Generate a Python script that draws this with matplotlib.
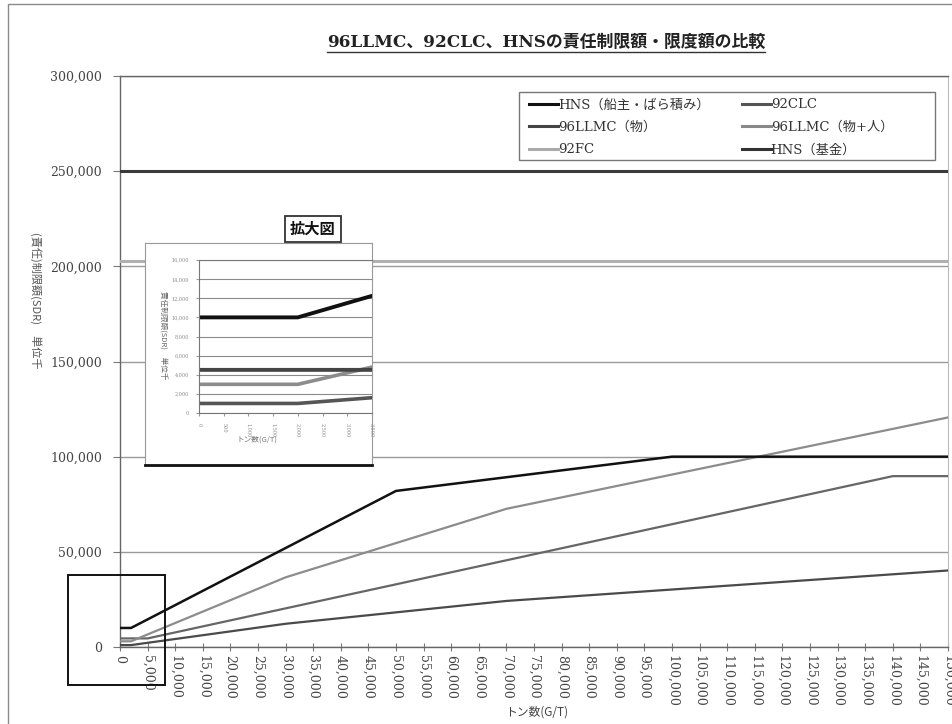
import matplotlib
matplotlib.use('Agg')
import matplotlib.pyplot as plt
from matplotlib.lines import Line2D
from matplotlib.patches import Rectangle


# data (tonnage in G/T, limits in thousand SDR) ...............................
hns_owner_x = [0, 2000, 50000, 100000, 150000]
hns_owner_y = [10000, 10000, 82000, 100000, 100000]

clc92_x = [0, 5000, 140000, 150000]
clc92_y = [4510, 4510, 89770, 89770]

llmc_prop_x = [0, 2000, 30000, 70000, 150000]
llmc_prop_y = [1000, 1000, 12200, 24200, 40200]

llmc_all_x = [0, 2000, 30000, 70000, 150000]
llmc_all_y = [3000, 3000, 36600, 72600, 120600]

fc92_x = [0, 150000]
fc92_y = [203040, 203040]

hns_fund_x = [0, 150000]
hns_fund_y = [250000, 250000]

labels = ['HNS（船主・ばら積み）', '92CLC', '96LLMC（物）',
          '96LLMC（物+人）', '92FC', 'HNS（基金）']

x_ticks = list(range(0, 150001, 5000))
y_ticks = list(range(0, 300001, 50000))
inset_x_ticks = list(range(0, 3501, 500))
inset_y_ticks = list(range(0, 16001, 2000))

W, H = 952, 724
SERIF = ['DejaVu Serif', 'Noto Sans CJK JP']
JP = ['Noto Sans CJK JP', 'DejaVu Sans']


def fx(px):
    return px / W


def fy(py):
    return 1 - py / H


def fmt(v):
    return f'{v:,}'


def main():
    fig = plt.figure(figsize=(W / 100, H / 100), dpi=100)
    fig.patch.set_facecolor('white')

    # outer chart frame ........................................................
    fig.add_artist(Rectangle((fx(8), fy(730)), 1.0, fy(4) - fy(730),
                             transform=fig.transFigure, fill=False,
                             edgecolor='#8a8a8a', lw=1.0))

    # main axes ................................................................
    ax = fig.add_axes([fx(120), fy(647), fx(948) - fx(120), fy(76) - fy(647)])
    ax.set_xlim(0, 150000)
    ax.set_ylim(0, 300000)

    ax.plot(hns_fund_x, hns_fund_y, color='#3a3a3a', lw=2.2, zorder=3)
    ax.plot(fc92_x, fc92_y, color='#b0b0b0', lw=2.2, zorder=3)
    ax.plot(llmc_prop_x, llmc_prop_y, color='#4a4a4a', lw=1.6, zorder=3)
    ax.plot(clc92_x, clc92_y, color='#666666', lw=1.6, zorder=3)
    ax.plot(llmc_all_x, llmc_all_y, color='#8c8c8c', lw=1.6, zorder=3)
    ax.plot(hns_owner_x, hns_owner_y, color='#111111', lw=1.8, zorder=4)

    ax.set_xticks(x_ticks)
    ax.set_xticklabels([fmt(v) for v in x_ticks], rotation=270,
                       family=SERIF, fontsize=9, color='#444444')
    ax.set_yticks(y_ticks)
    ax.set_yticklabels([fmt(v) for v in y_ticks], family=SERIF,
                       fontsize=9, color='#444444')
    ax.tick_params(axis='x', direction='inout', length=6, color='#777777',
                   pad=3)
    ax.tick_params(axis='y', direction='out', length=5, color='#777777',
                   pad=8)
    ax.yaxis.grid(True, color='#9a9a9a', lw=1.0)
    ax.set_axisbelow(True)
    for side in ['left', 'bottom', 'top']:
        ax.spines[side].set_color('#666666')
        ax.spines[side].set_linewidth(1.0)
    ax.spines['right'].set_color('#bbbbbb')

    fig.text(fx(36), fy(300), '(責任)制限額(SDR)　単位千', rotation=270,
             ha='center', va='center', family=JP, fontsize=8,
             color='#555555')
    fig.text(fx(537), fy(712), 'トン数(G/T)', ha='center', va='center',
             family=JP, fontsize=8.5, color='#444444')

    # legend (frame drawn separately so it spans the reference width) .........
    order = [0, 2, 4, 1, 3, 5]
    styles = [('#111111', 2.2), ('#555555', 2.2), ('#444444', 2.2),
              ('#888888', 2.2), ('#aaaaaa', 2.2), ('#333333', 2.2)]
    handles = [Line2D([], [], color=styles[i][0], lw=styles[i][1])
               for i in order]
    leg = fig.legend(handles, [labels[i] for i in order], ncol=2,
                     loc='upper left', bbox_to_anchor=(fx(524), fy(93)),
                     frameon=False, handlelength=2.2,
                     handletextpad=0.0, labelspacing=0.72,
                     columnspacing=2.4, borderaxespad=0.0,
                     borderpad=0.4,
                     prop={'family': SERIF, 'size': 9.5})
    for t in leg.get_texts():
        t.set_color('#333333')
    fig.add_artist(Rectangle((fx(519), fy(160)), fx(935) - fx(519),
                             fy(92) - fy(160), transform=fig.transFigure,
                             fill=False, edgecolor='#777777', lw=1.0))

    # title ....................................................................
    title = fig.text(fx(546), fy(42), '96LLMC、92CLC、HNSの責任制限額・限度額の比較',
                     ha='center', va='center', family=SERIF,
                     fontweight='bold', fontsize=12.2, color='#222222')

    # zoom marker box ..........................................................
    fig.add_artist(Rectangle((fx(68), fy(685)), fx(165) - fx(68),
                             fy(575) - fy(685), transform=fig.transFigure,
                             fill=False, edgecolor='#111111', lw=1.4,
                             zorder=10))

    # inset panel ..............................................................
    box = fig.add_axes([fx(145), fy(465), fx(372) - fx(145),
                        fy(243) - fy(465)], zorder=5)
    box.set_xticks([])
    box.set_yticks([])
    box.set_facecolor('white')
    for side in ['left', 'top', 'right']:
        box.spines[side].set_color('#999999')
        box.spines[side].set_linewidth(0.8)
    box.spines['bottom'].set_color('#111111')
    box.spines['bottom'].set_linewidth(2.0)

    ins = fig.add_axes([fx(199), fy(413), fx(372) - fx(199),
                        fy(260) - fy(413)], zorder=6)
    ins.set_facecolor('none')
    ins.set_xlim(0, 3460)
    ins.set_ylim(0, 16000)
    ins.plot(llmc_prop_x, llmc_prop_y, color='#555555', lw=2.6)
    ins.plot(llmc_all_x, llmc_all_y, color='#8c8c8c', lw=2.6)
    ins.plot(clc92_x, clc92_y, color='#444444', lw=2.8)
    ins.plot(hns_owner_x, hns_owner_y, color='#111111', lw=2.8)
    ins.set_xticks(inset_x_ticks)
    ins.set_xticklabels([fmt(v) for v in inset_x_ticks], rotation=270,
                        family=SERIF, fontsize=3.5, color='#888888')
    ins.set_yticks(inset_y_ticks)
    ins.set_yticklabels([fmt(v) for v in inset_y_ticks], family=SERIF,
                        fontsize=3.5, color='#888888')
    ins.tick_params(length=2, color='#999999', pad=5)
    ins.yaxis.grid(True, color='#8a8a8a', lw=0.8)
    ins.set_axisbelow(True)
    ins.spines['right'].set_visible(False)
    ins.spines['top'].set_color('#777777')
    ins.spines['left'].set_color('#777777')
    ins.spines['bottom'].set_color('#777777')

    fig.text(fx(162), fy(335), '責任制限額(SDR)　単位千', rotation=270,
             ha='center', va='center', family=JP, fontsize=5.5,
             color='#666666', zorder=7)
    fig.text(fx(257), fy(440), 'トン数(G/T)', ha='center', va='center',
             family=JP, fontsize=5.5, color='#777777', zorder=7)

    fig.text(fx(313), fy(229), '拡大図', ha='center', va='center',
             family=JP, fontweight='bold', fontsize=11, color='#111111',
             zorder=8,
             bbox=dict(boxstyle='square,pad=0.35', facecolor='white',
                       edgecolor='#333333', lw=1.3))

    # underline under the title ...............................................
    fig.canvas.draw()
    bb = title.get_window_extent().transformed(fig.transFigure.inverted())
    fig.add_artist(Line2D([bb.x0, bb.x1], [bb.y0 - fy(0) + fy(1)] * 2,
                          transform=fig.transFigure, color='#333333', lw=1.0))

    fig.savefig('out.png', dpi=100)


if __name__ == '__main__':
    main()
